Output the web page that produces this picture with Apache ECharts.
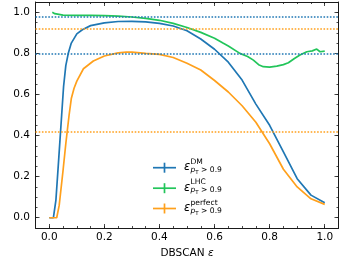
<!DOCTYPE html>
<html><head><meta charset="utf-8">
<script src="https://cdn.jsdelivr.net/npm/echarts@6/dist/echarts.min.js"></script>
<style>html,body{margin:0;padding:0;background:#fff}#c{width:341px;height:256px}</style>
</head><body><div id="c"></div>
<script>
const dmX = [0, 0.015, 0.024, 0.035, 0.045, 0.052, 0.06, 0.069, 0.08, 0.1, 0.12, 0.15, 0.2, 0.25, 0.3, 0.35, 0.4, 0.45, 0.5, 0.55, 0.6, 0.65, 0.7, 0.75, 0.8, 0.85, 0.9, 0.95, 1.0];
const dmY = [0, 0, 0.084, 0.3, 0.5, 0.64, 0.74, 0.8, 0.85, 0.895, 0.915, 0.935, 0.948, 0.955, 0.956, 0.953, 0.946, 0.933, 0.91, 0.87, 0.82, 0.757, 0.67, 0.553, 0.45, 0.32, 0.19, 0.11, 0.073];
const lhcX = [0.011, 0.02, 0.027, 0.05, 0.1, 0.15, 0.2, 0.25, 0.3, 0.35, 0.4, 0.45, 0.5, 0.55, 0.6, 0.632, 0.65, 0.692, 0.72, 0.741, 0.76, 0.777, 0.8, 0.826, 0.85, 0.868, 0.89, 0.91, 0.935, 0.955, 0.971, 0.983, 1.0];
const lhcY = [1.0, 0.993, 0.985, 0.986, 0.985, 0.985, 0.984, 0.981, 0.977, 0.97, 0.961, 0.946, 0.926, 0.902, 0.874, 0.849, 0.836, 0.8, 0.785, 0.767, 0.745, 0.735, 0.733, 0.738, 0.745, 0.754, 0.775, 0.792, 0.808, 0.812, 0.821, 0.808, 0.811];
const perfX = [0, 0.027, 0.036, 0.05, 0.06, 0.072, 0.08, 0.09, 0.1, 0.124, 0.16, 0.2, 0.25, 0.28, 0.3, 0.35, 0.4, 0.45, 0.5, 0.55, 0.6, 0.65, 0.7, 0.75, 0.8, 0.85, 0.9, 0.95, 1.0];
const perfY = [0, 0, 0.06, 0.23, 0.36, 0.5, 0.58, 0.63, 0.665, 0.725, 0.763, 0.787, 0.802, 0.806, 0.806, 0.8, 0.795, 0.78, 0.752, 0.719, 0.668, 0.612, 0.545, 0.465, 0.36, 0.236, 0.15, 0.092, 0.065];
const dmRefLines = [0.983, 0.797];
const perfRefLines = [0.922, 0.42];
const majorTicks = [0, 0.2, 0.4, 0.6, 0.8, 1.0];
const legendSup = ['DM', 'LHC', 'perfect'];

const C_BLUE = '#1f77b4', C_GREEN = '#22c55a', C_ORANGE = '#ffa01c';
const FONT = 'DejaVu Sans';
const AX_MIN = -0.05, AX_MAX = 1.05;

function axis(kind, pos, major, labels) {
  const a = {
    type: 'value', position: pos, min: AX_MIN, max: AX_MAX,
    splitLine: {show: false},
    axisLine: {show: major, onZero: false, lineStyle: {color: '#1a1a1a', width: 1}},
    axisTick: {show: true, inside: true, length: major ? 4 : 2, lineStyle: {color: '#1a1a1a', width: 0.8}},
    axisLabel: {show: false}
  };
  if (major) {
    a.axisTick.customValues = majorTicks;
    a.axisLabel = {show: labels, customValues: majorTicks, color: '#000', fontFamily: FONT, fontSize: 10.5,
      margin: kind === 'x' ? 3.5 : 5.5, formatter: v => v.toFixed(1)};
  } else {
    a.interval = 0.05;
  }
  return a;
}

const xAxes = [axis('x','bottom',true,true), axis('x','bottom',false,false), axis('x','top',true,false), axis('x','top',false,false)];
const yAxes = [axis('y','left',true,true), axis('y','left',false,false), axis('y','right',true,false), axis('y','right',false,false)];
xAxes[0].name = 'DBSCAN {i|ε}';
xAxes[0].nameLocation = 'middle';
xAxes[0].nameGap = 12.5;
xAxes[0].nameTextStyle = {color: '#000', fontFamily: FONT, fontSize: 10.5, rich: {i: {fontStyle: 'italic', fontFamily: FONT, fontSize: 10.5, color: '#000'}}};
yAxes[0].name = 'Metric';
yAxes[0].nameLocation = 'middle';
yAxes[0].nameGap = 22;
yAxes[0].nameTextStyle = {color: '#000', fontFamily: FONT, fontSize: 10.5};

function pairs(xs, ys) { return xs.map((x, i) => [x, ys[i]]); }
function refLines(vals, color) {
  return {silent: true, symbol: 'none', animation: false, label: {show: false},
    lineStyle: {type: [1.6, 1.6], width: 1.5, color: color},
    emphasis: {disabled: true},
    data: vals.map(v => ({yAxis: v}))};
}

const series = [
  {type: 'line', data: pairs(dmX, dmY), showSymbol: false, lineStyle: {color: C_BLUE, width: 1.7}, itemStyle: {color: C_BLUE}, markLine: refLines(dmRefLines, C_BLUE), z: 3},
  {type: 'line', data: pairs(lhcX, lhcY), showSymbol: false, lineStyle: {color: C_GREEN, width: 1.7}, itemStyle: {color: C_GREEN}, z: 3},
  {type: 'line', data: pairs(perfX, perfY), showSymbol: false, lineStyle: {color: C_ORANGE, width: 1.7}, itemStyle: {color: C_ORANGE}, markLine: refLines(perfRefLines, C_ORANGE), z: 3}
];

const colors = [C_BLUE, C_GREEN, C_ORANGE];
const legendY = [167.7, 188.2, 208.5];
const graphics = [];
legendY.forEach((cy, i) => {
  graphics.push({type: 'line', shape: {x1: 153, y1: cy, x2: 176, y2: cy}, style: {stroke: colors[i], lineWidth: 1.7}});
  graphics.push({type: 'line', shape: {x1: 164.5, y1: cy - 5, x2: 164.5, y2: cy + 5}, style: {stroke: colors[i], lineWidth: 1.7}});
  graphics.push({type: 'text', x: 184, y: cy - 0.5, style: {text: 'ε', fontFamily: FONT, fontStyle: 'italic', fontSize: 11.5, fill: '#000', verticalAlign: 'middle'}});
  graphics.push({type: 'text', x: 190.5, y: cy - 5.7, style: {text: legendSup[i], fontFamily: FONT, fontSize: 7.6, fill: '#000', verticalAlign: 'middle'}});
  graphics.push({type: 'text', x: 190.5, y: cy + 2.2, style: {
    text: '{p|p}{t|T}{r| > 0.9}', verticalAlign: 'middle', fill: '#000', fontFamily: FONT, fontSize: 7.6,
    rich: {
      p: {fontFamily: FONT, fontStyle: 'italic', fontSize: 7.6, fill: '#000', lineHeight: 11, verticalAlign: 'middle'},
      t: {fontFamily: FONT, fontSize: 5.5, fill: '#000', lineHeight: 11, verticalAlign: 'bottom'},
      r: {fontFamily: FONT, fontSize: 7.6, fill: '#000', lineHeight: 11, verticalAlign: 'middle'}
    }}});
});

const chart = echarts.init(document.getElementById('c'), null, {renderer: 'canvas'});
chart.setOption({
  animation: false,
  grid: {left: 35.5, right: 2.5, top: 2, bottom: 28, containLabel: false, outerBoundsMode: 'none'},
  xAxis: xAxes,
  yAxis: yAxes,
  series: series,
  graphic: graphics
});
</script></body></html>
